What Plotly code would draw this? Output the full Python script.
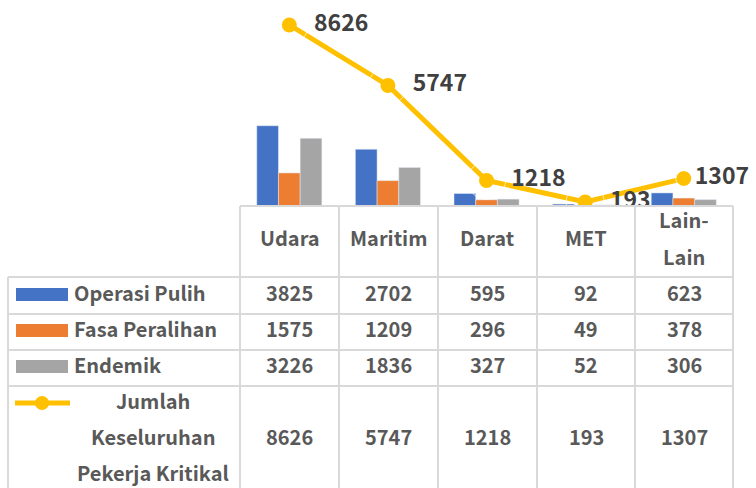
import plotly.graph_objects as go

categories = ["Udara", "Maritim", "Darat", "MET", "Lain-Lain"]
operasi_pulih = [3825, 2702, 595, 92, 623]
fasa_peralihan = [1575, 1209, 296, 49, 378]
endemik = [3226, 1836, 327, 52, 306]
jumlah = [8626, 5747, 1218, 193, 1307]

series_names = ["Operasi Pulih", "Fasa Peralihan", "Endemik"]
line_name = ["Jumlah", "Keseluruhan", "Pekerja Kritikal"]

W, H = 756, 488
colors = ["#4472C4", "#ED7D31", "#A5A5A5"]
gold = "#FFC000"
grid = "#D9D9D9"
txt = "#595959"
FONT = "Noto Sans CJK JP"


def px(x):
    return x / W


def py(y):
    return 1 - y / H


fig = go.Figure()
for name, vals, c in zip(series_names, [operasi_pulih, fasa_peralihan, endemik], colors):
    fig.add_trace(go.Bar(x=categories, y=vals, name=name, marker_color=c))

fig.add_trace(go.Scatter(
    x=categories, y=jumlah, mode="lines+markers",
    line=dict(color=gold, width=5), marker=dict(size=15, color=gold),
))
# labels on an invisible wider marker so they sit further right
# (last one pulled in, like Excel does at the chart edge)
fig.add_trace(go.Scatter(
    x=categories, y=jumlah, mode="markers+text",
    marker=dict(size=[38, 38, 38, 38, 16], color="rgba(0,0,0,0)"),
    text=[str(v) for v in jumlah], textposition="middle right",
    textfont=dict(family=FONT, size=23, color="#404040", weight="bold"),
))

# table grid
col_x = [240, 339, 438, 537, 635, 733]
row_y = [277, 314, 350, 386]
shapes = []
ln = dict(color=grid, width=2)
shapes.append(dict(type="line", xref="paper", yref="paper", x0=px(240), x1=px(733), y0=py(206), y1=py(206), line=ln))
for y in row_y:
    shapes.append(dict(type="line", xref="paper", yref="paper", x0=px(8), x1=px(733), y0=py(y), y1=py(y), line=ln))
for x in col_x:
    shapes.append(dict(type="line", xref="paper", yref="paper", x0=px(x), x1=px(x), y0=py(206), y1=py(490), line=ln))
shapes.append(dict(type="line", xref="paper", yref="paper", x0=px(8), x1=px(8), y0=py(277), y1=py(490), line=ln))

# legend keys
key_y = [294, 330, 366]
for c, yc in zip(colors, key_y):
    shapes.append(dict(type="rect", xref="paper", yref="paper", x0=px(16), x1=px(68),
                       y0=py(yc - 6), y1=py(yc + 7), fillcolor=c, line=dict(width=0)))
shapes.append(dict(type="line", xref="paper", yref="paper", x0=px(15), x1=px(70), y0=py(403), y1=py(403),
                   line=dict(color=gold, width=5)))
shapes.append(dict(type="circle", xref="paper", yref="paper", x0=px(35), x1=px(49), y0=py(396), y1=py(410),
                   fillcolor=gold, line=dict(width=0)))

ann = []
fnt = dict(family=FONT, size=20, color=txt, weight="bold")


def add_text(x, y, s, anchor="center"):
    ann.append(dict(x=px(x), y=py(y - 2), xref="paper", yref="paper", text=s, showarrow=False,
                    xanchor=anchor, yanchor="middle", font=fnt))


centers = [(col_x[i] + col_x[i + 1]) / 2 for i in range(5)]
for cx, cat in zip(centers, categories):
    if "-" in cat:
        a, b = cat.split("-")
        add_text(cx, 222, a + "-")
        add_text(cx, 258, b)
    else:
        add_text(cx, 240, cat)

for name, yc in zip(series_names, key_y):
    add_text(72, yc, name, "left")
for s, yc in zip(line_name, [402, 438, 474]):
    add_text(153, yc, s)

for vals, yc in zip([operasi_pulih, fasa_peralihan, endemik, jumlah], key_y + [438]):
    for cx, v in zip(centers, vals):
        add_text(cx, yc, str(v))

fig.update_layout(
    width=W, height=H, margin=dict(l=0, r=0, t=0, b=0),
    plot_bgcolor="white", paper_bgcolor="white",
    barmode="group", bargap=0.34, bargroupgap=0,
    showlegend=False, shapes=shapes, annotations=ann,
    xaxis=dict(domain=[px(240), 1], range=[-0.5, 4.5 + 23 / 99], showticklabels=False,
               showgrid=False, zeroline=False, showline=False, fixedrange=True),
    yaxis=dict(domain=[py(206), 1], range=[0, 9817], showticklabels=False,
               showgrid=False, zeroline=False, showline=False, fixedrange=True),
)

fig.write_html("out.html", config={"displayModeBar": False},
               post_script="document.body.style.margin='0';")
